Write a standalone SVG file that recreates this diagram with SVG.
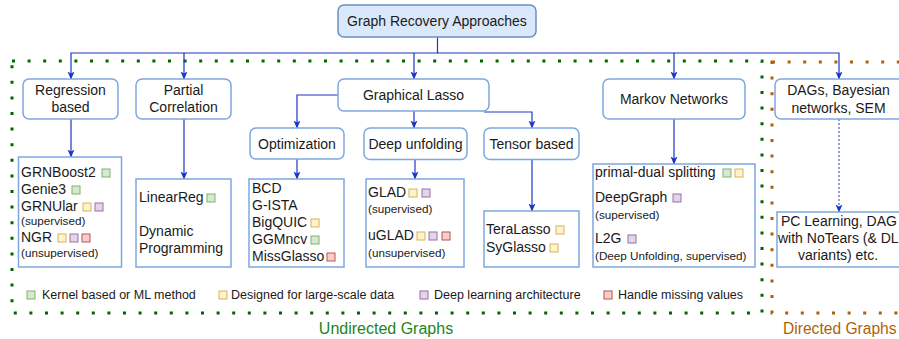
<svg xmlns="http://www.w3.org/2000/svg" width="899" height="339" viewBox="0 0 899 339">
<defs>
<style>
text{font-family:"Liberation Sans",Arial,Helvetica,sans-serif;fill:#1a1a1a;font-size:14px}
.c{text-anchor:middle}
.s{font-size:11.7px}
.lg{font-size:12.5px}
.node{fill:#ffffff;stroke:#7ea6e0;stroke-width:1.5}
.root{fill:#dae8fc;stroke:#6c8ebf;stroke-width:1.5}
.leaf{fill:#ffffff;stroke:#7ea6e0;stroke-width:1.5}
.edge{fill:none;stroke:#1d35c4;stroke-width:1.2;marker-end:url(#arr)}
.dot{fill:none;stroke:#1d35c4;stroke-width:1;stroke-dasharray:2 2;marker-end:url(#arr)}
.g{fill:#d5e8d4;stroke:#82b366}
.y{fill:#fff2cc;stroke:#d6b656}
.p{fill:#e1d5e7;stroke:#9673a6}
.r{fill:#f8cecc;stroke:#b85450}
</style>
<marker id="arr" markerUnits="userSpaceOnUse" markerWidth="8" markerHeight="8" viewBox="0 0 8 8" refX="7.5" refY="4" orient="auto">
<path d="M0,0.5 L8,4 L0,7.5 L2,4 z" fill="#1d35c4"/>
</marker>
</defs>

<g id="regions">
<rect x="12" y="61" width="750" height="252" fill="none" stroke="#006600" stroke-width="3" stroke-dasharray="3 12.6"/>
<rect x="772" y="62" width="140" height="251" fill="none" stroke="#b05f0a" stroke-width="3" stroke-dasharray="3 12.6"/>
<text x="386" y="334" class="c" style="font-size:16px;fill:#1b861b">Undirected Graphs</text>
<text x="783" y="334" style="font-size:15.6px;fill:#b05f0a">Directed Graphs</text>
</g>

<g id="connectors">
<path class="edge" d="M437.5 37 V53 H71 V79"/>
<path class="edge" d="M184 53 V79"/>
<path class="edge" d="M414 53 V79"/>
<path class="edge" d="M437.5 53 H674 V79"/>
<path class="edge" d="M674 53 H839 V79"/>
<path class="edge" d="M338 95 H297 V128"/>
<path class="edge" d="M414 111 V128"/>
<path class="edge" d="M484 112 H532 V128"/>
<path class="edge" d="M71 119 V157"/>
<path class="edge" d="M184 119 V179"/>
<path class="edge" d="M297 159 V179"/>
<path class="edge" d="M415 160 V179"/>
<path class="edge" d="M532 160 V211"/>
<path class="edge" d="M674 119 V164"/>
<path class="dot" d="M839 119 V212"/>
</g>

<g id="root">
<rect class="root" x="338" y="5" width="198" height="32" rx="6"/>
<text x="437" y="26" class="c">Graph Recovery Approaches</text>
</g>
<g id="regression">
<rect class="node" x="23" y="79" width="95" height="40" rx="6"/>
<text x="70.5" y="95" class="c">Regression</text>
<text x="70.5" y="112" class="c">based</text>
</g>
<g id="partial">
<rect class="node" x="136" y="79" width="95" height="40" rx="6"/>
<text x="183.5" y="95" class="c">Partial</text>
<text x="183.5" y="112" class="c">Correlation</text>
</g>
<g id="glasso">
<rect class="node" x="338" y="79" width="151" height="32" rx="6"/>
<text x="413.5" y="100" class="c">Graphical Lasso</text>
</g>
<g id="markov">
<rect class="node" x="603" y="79" width="142" height="40" rx="6"/>
<text x="674" y="104" class="c">Markov Networks</text>
</g>
<g id="dags">
<rect class="node" x="775" y="79" width="130" height="40" rx="6"/>
<text x="838.5" y="95" class="c">DAGs, Bayesian</text>
<text x="838.5" y="113" class="c">networks, SEM</text>
</g>
<g id="optimization">
<rect class="node" x="250" y="128" width="94" height="31" rx="6"/>
<text x="297" y="148.5" class="c">Optimization</text>
</g>
<g id="deepunfolding">
<rect class="node" x="364" y="128" width="103" height="31.5" rx="6"/>
<text x="415.5" y="149" class="c">Deep unfolding</text>
</g>
<g id="tensor">
<rect class="node" x="484" y="128" width="95" height="31.5" rx="6"/>
<text x="531.5" y="149" class="c">Tensor based</text>
</g>

<g id="leaf-regression">
<rect class="leaf" x="18.5" y="157" width="103" height="110"/>
<text x="21" y="177">GRNBoost2</text><rect class="g" x="102" y="169" width="8" height="8"/>
<text x="21" y="194">Genie3</text><rect class="g" x="72" y="186" width="8" height="8"/>
<text x="21" y="211">GRNUlar</text><rect class="y" x="83" y="203" width="8" height="8"/><rect class="p" x="95" y="203" width="8" height="8"/>
<text x="21" y="225" class="s">(supervised)</text>
<text x="21" y="242">NGR</text><rect class="y" x="58" y="234" width="8" height="8"/><rect class="p" x="70" y="234" width="8" height="8"/><rect class="r" x="82" y="234" width="8" height="8"/>
<text x="21" y="257" class="s">(unsupervised)</text>
</g>
<g id="leaf-partial">
<rect class="leaf" x="136" y="179" width="95" height="88"/>
<text x="139" y="202">LinearReg</text><rect class="g" x="207" y="194" width="8" height="8"/>
<text x="139" y="236">Dynamic</text>
<text x="139" y="253">Programming</text>
</g>
<g id="leaf-optimization">
<rect class="leaf" x="249" y="179" width="95" height="88"/>
<text x="252" y="193">BCD</text>
<text x="252" y="210">G-ISTA</text>
<text x="252" y="227">BigQUIC</text><rect class="y" x="311" y="219" width="8" height="8"/>
<text x="252" y="244">GGMncv</text><rect class="g" x="311" y="236" width="8" height="8"/>
<text x="252" y="261">MissGlasso</text><rect class="r" x="327" y="253" width="8" height="8"/>
</g>
<g id="leaf-deepunfolding">
<rect class="leaf" x="366" y="179" width="98" height="88"/>
<text x="368" y="197">GLAD</text><rect class="y" x="409" y="189" width="8" height="8"/><rect class="p" x="422" y="189" width="8" height="8"/>
<text x="368" y="213" class="s">(supervised)</text>
<text x="368" y="240">uGLAD</text><rect class="y" x="417" y="232" width="8" height="8"/><rect class="p" x="429" y="232" width="8" height="8"/><rect class="r" x="442" y="232" width="8" height="8"/>
<text x="368" y="257" class="s">(unsupervised)</text>
</g>
<g id="leaf-tensor">
<rect class="leaf" x="484" y="211" width="95" height="56"/>
<text x="486" y="234">TeraLasso</text><rect class="y" x="556" y="226" width="8" height="8"/>
<text x="486" y="252">SyGlasso</text><rect class="y" x="550" y="244" width="8" height="8"/>
</g>
<g id="leaf-markov">
<rect class="leaf" x="593" y="164" width="162" height="103"/>
<text x="595" y="177">primal-dual splitting</text><rect class="g" x="723" y="169" width="8" height="8"/><rect class="y" x="735" y="169" width="8" height="8"/>
<text x="595" y="202">DeepGraph</text><rect class="p" x="673" y="194" width="8" height="8"/>
<text x="595" y="219" class="s">(supervised)</text>
<text x="595" y="243">L2G</text><rect class="p" x="628" y="235" width="8" height="8"/>
<text x="595" y="260" class="s">(Deep Unfolding, supervised)</text>
</g>
<g id="leaf-dags">
<rect class="leaf" x="777" y="212" width="130" height="55"/>
<text x="781" y="226">PC Learning, DAG</text>
<text x="778" y="243">with NoTears (&amp; DL</text>
<text x="798" y="260">variants) etc.</text>
</g>

<g id="legend">
<rect class="g" x="27" y="291" width="8" height="8"/><text x="42" y="299" class="lg">Kernel based or ML method</text>
<rect class="y" x="219" y="291" width="8" height="8"/><text x="231" y="299" class="lg">Designed for large-scale data</text>
<rect class="p" x="420" y="291" width="8" height="8"/><text x="434" y="299" class="lg">Deep learning architecture</text>
<rect class="r" x="604" y="291" width="8" height="8"/><text x="618" y="299" class="lg">Handle missing values</text>
</g>
</svg>
